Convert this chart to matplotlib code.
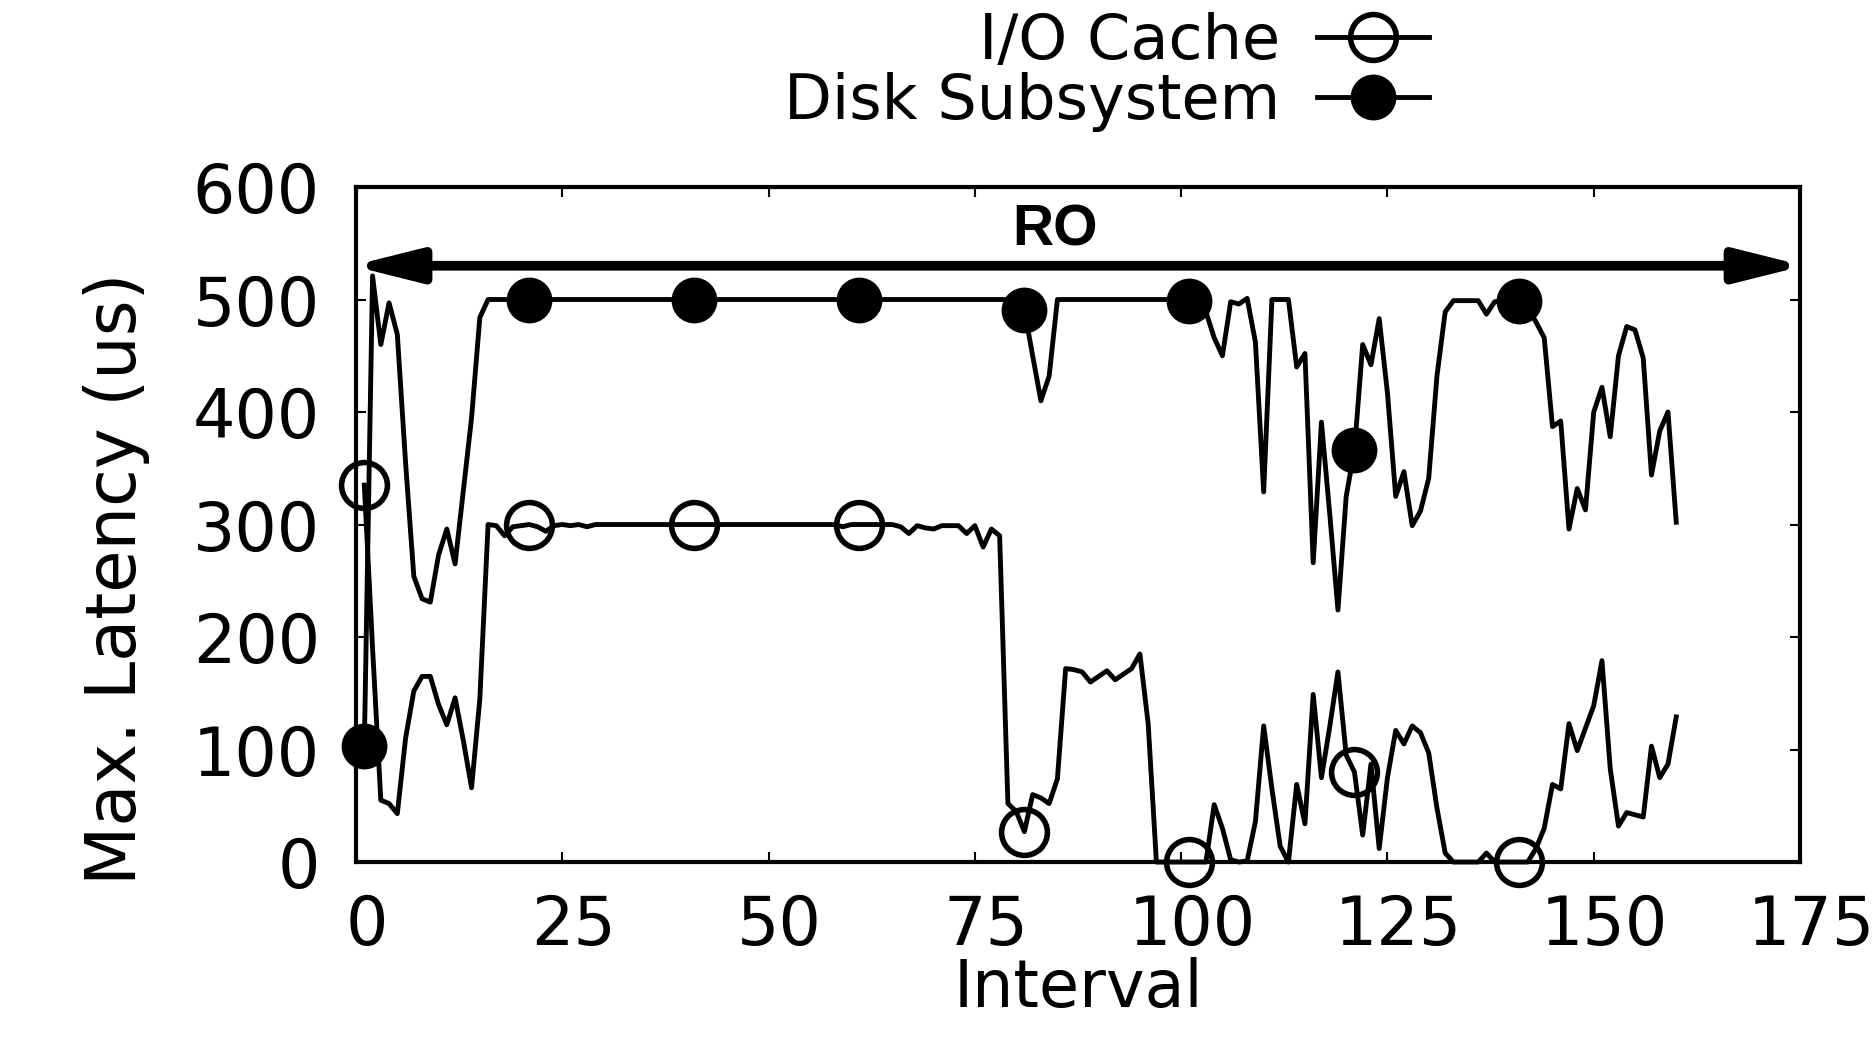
import numpy as np
import matplotlib.pyplot as plt
import matplotlib.transforms as mtransforms

# data, one value per interval (1..160)
interval = np.arange(1, 161)

disk_subsystem = (
    [103, 521, 460, 497, 469, 355, 254, 234, 231, 273,
     296, 265, 330, 395, 484]
    + [500] * 65
    + [491, 450, 410, 432]
    + [500] * 16
    + [499, 500, 489, 466, 450, 498, 496, 501, 462, 329,
       500, 500, 500, 440, 452, 266, 391, 310, 224, 325,
       366, 460, 442, 483, 417, 325, 347, 299, 312, 341,
       432, 489, 499, 499, 499, 499, 487, 498, 499, 499,
       499, 493, 480, 466, 387, 392, 296, 332, 313, 400,
       422, 378, 450, 476, 473, 448, 344, 383, 400, 302]
)

io_cache = (
    [335, 190, 55, 52, 43, 110, 152, 165, 165, 140,
     122, 146, 108, 66, 145, 300, 299, 290, 298, 299,
     300, 298, 294, 299, 300, 299, 300, 298, 300, 300,
     300, 300, 300, 300, 300, 300, 300, 300, 300, 300,
     300, 300, 300, 300, 300, 300, 300, 300, 300, 300,
     300, 300, 300, 300, 300, 300, 300, 300, 298, 300,
     300, 300, 300, 300, 300, 298, 292, 299, 297, 296,
     299, 299, 299, 292, 299, 280, 296, 290, 52, 45,
     27, 60, 57, 52, 74, 172, 171, 169, 160, 165,
     170, 162, 167, 172, 185, 123, 0, 0, 0, 0,
     0, 0, 0, 51, 30, 2, 0, 1, 36, 121,
     65, 14, 0, 69, 34, 149, 75, 120, 169, 95,
     80, 24, 87, 12, 75, 117, 105, 121, 115, 97,
     48, 8, 0, 0, 0, 0, 8, 0, 0, 0,
     0, 0, 12, 30, 69, 65, 123, 99, 119, 139,
     179, 83, 32, 44, 42, 40, 103, 75, 87, 129]
)

x_ticks = [0, 25, 50, 75, 100, 125, 150, 175]
y_ticks = [0, 100, 200, 300, 400, 500, 600]
series_labels = ["I/O Cache", "Disk Subsystem"]
phase_label = "RO"
phase_start, phase_end, phase_level = -0.5, 175.5, 530

fig = plt.figure(figsize=(18.75, 10.5), dpi=100)
ax = fig.add_axes([0.1899, 0.1790, 0.7701, 0.6429])

line_kw = dict(color="black", lw=3.5, markersize=33, markevery=(0, 20),
               clip_on=False)
h_io, = ax.plot(interval, io_cache, marker="o", markerfacecolor="none",
                markeredgewidth=4, label=series_labels[0], **line_kw)
h_disk, = ax.plot(interval, disk_subsystem, marker="o",
                  markerfacecolor="black", markeredgewidth=0,
                  label=series_labels[1], **line_kw)

ax.set_xlim(0, 175)
ax.set_ylim(0, 600)
ax.set_xticks(x_ticks)
ax.set_yticks(y_ticks)
ax.tick_params(direction="in", length=7, width=1.5, labelsize=48,
               top=True, right=True)
ax.tick_params(axis="x", pad=22)
ax.tick_params(axis="y", pad=26)
for side in ax.spines.values():
    side.set_linewidth(3)

# gnuplot put the x labels a little right of their ticks
shift = mtransforms.ScaledTranslation(0.11, 0, fig.dpi_scale_trans)
for lab in ax.get_xticklabels():
    lab.set_transform(lab.get_transform() + shift)

ax.set_xlabel("Interval", fontsize=47)
ax.set_ylabel("Max. Latency (us)", fontsize=49.5)
ax.xaxis.set_label_coords(0.5, -0.141)
ax.yaxis.set_label_coords(-0.143, 0.42)

# phase arrow
ax.annotate("", xy=(phase_end, phase_level), xytext=(phase_start, phase_level),
            annotation_clip=False,
            arrowprops=dict(arrowstyle="<|-|>,head_length=40,head_width=10",
                            mutation_scale=1, lw=7, color="black",
                            shrinkA=0, shrinkB=0))
ax.text(84.7, 548, phase_label, ha="center", va="baseline", fontsize=41,
        fontweight="bold", family="Liberation Sans")

ax.legend(handles=[h_io, h_disk], loc="upper right",
          bbox_to_anchor=(0.762, 0.9886), bbox_transform=fig.transFigure,
          frameon=False, markerfirst=False, fontsize=44.7, handlelength=1.8,
          handletextpad=0.6, labelspacing=0.0, borderpad=0,
          borderaxespad=0)

fig.savefig("out.png", dpi=100)
